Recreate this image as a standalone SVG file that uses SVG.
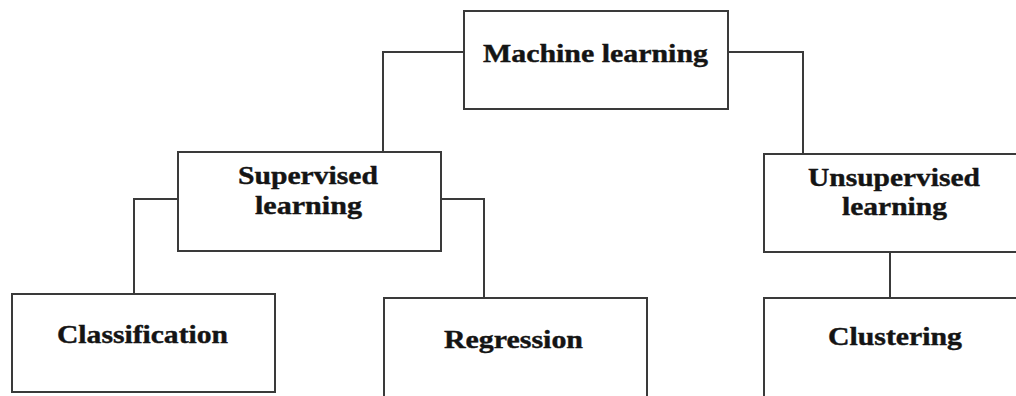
<svg xmlns="http://www.w3.org/2000/svg" width="1016" height="396" viewBox="0 0 1016 396">
<style>
.box{fill:#fff;stroke:#3a3a3a;stroke-width:2}
.conn{fill:none;stroke:#3a3a3a;stroke-width:2}
.lbl{font-family:"Liberation Serif","Times New Roman",serif;font-weight:bold;font-size:25px;fill:#141414;stroke:#141414;stroke-width:0.4;text-anchor:middle}
</style>
<rect width="1016" height="396" fill="#fff"/>
<g id="connectors">
<path class="conn" d="M464,52 H383 V152"/>
<path class="conn" d="M728,52 H803 V154"/>
<path class="conn" d="M178,199 H134 V294"/>
<path class="conn" d="M441,199 H484 V298"/>
<path class="conn" d="M890,252 V298"/>
</g>
<g id="machine-learning">
<rect class="box" x="464" y="11" width="264" height="98"/>
<text class="lbl" x="595.5" y="62" textLength="225" lengthAdjust="spacingAndGlyphs">Machine learning</text>
</g>
<g id="supervised">
<rect class="box" x="178" y="152" width="263" height="99"/>
<text class="lbl" x="308" y="184" textLength="140" lengthAdjust="spacingAndGlyphs">Supervised</text>
<text class="lbl" x="308.5" y="214" textLength="107" lengthAdjust="spacingAndGlyphs">learning</text>
</g>
<g id="unsupervised">
<rect class="box" x="764" y="154" width="270" height="98"/>
<text class="lbl" x="894" y="186" textLength="172" lengthAdjust="spacingAndGlyphs">Unsupervised</text>
<text class="lbl" x="894.5" y="215" textLength="105" lengthAdjust="spacingAndGlyphs">learning</text>
</g>
<g id="classification">
<rect class="box" x="12" y="294" width="263" height="98"/>
<text class="lbl" x="142.5" y="343" textLength="171" lengthAdjust="spacingAndGlyphs">Classification</text>
</g>
<g id="regression">
<rect class="box" x="384" y="298" width="263" height="110"/>
<text class="lbl" x="513.5" y="348" textLength="139" lengthAdjust="spacingAndGlyphs">Regression</text>
</g>
<g id="clustering">
<rect class="box" x="764" y="298" width="270" height="110"/>
<text class="lbl" x="895" y="345" textLength="134" lengthAdjust="spacingAndGlyphs">Clustering</text>
</g>
</svg>
